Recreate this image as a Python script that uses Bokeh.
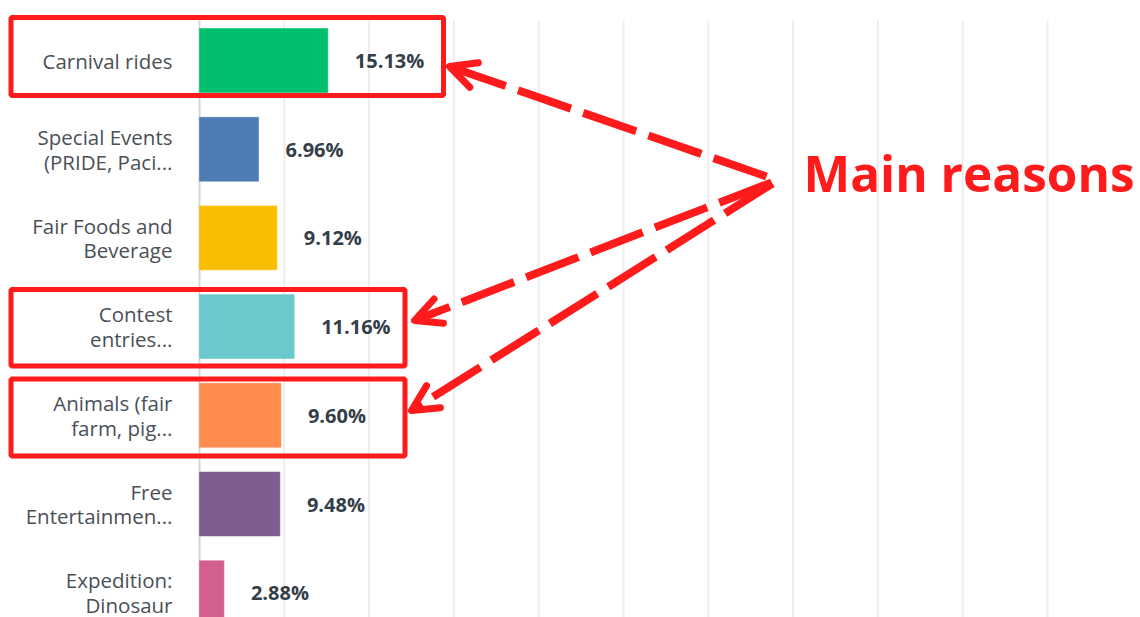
from bokeh.plotting import figure
from bokeh.models import Range1d, ColumnDataSource, BoxAnnotation, Arrow, OpenHead, Label
from bokeh.core.properties import value
from bokeh.embed import file_html
from bokeh.resources import INLINE

# ---- data ----
categories = [
    "Carnival rides",
    "Special Events\n(PRIDE, Paci...",
    "Fair Foods and\nBeverage",
    "Contest\nentries...",
    "Animals (fair\nfarm, pig...",
    "Free\nEntertainmen...",
    "Expedition:\nDinosaur",
]
percent = [15.13, 6.96, 9.12, 11.16, 9.60, 9.48, 2.88]
bar_colors = ["#00bf6f", "#507cb6", "#f9be00", "#6bc8cd", "#ff8b4f", "#7d5e8f", "#d25f90"]
grid_ticks = [0, 10, 20, 30, 40, 50, 60, 70, 80, 90, 100]
callout_text = "Main reasons"

# ---- layout (pixel geometry of the page) ----
W, H = 1140, 617
OFF = 0
X0_PX = 199             # picture x of 0 %
PX_PER_PCT = 8.48
Y0_PX = 60              # picture y of first category centre
PX_PER_ROW = 88.7

def dx(px):
    return (px - X0_PX) / PX_PER_PCT

def dy(py):
    return (py - Y0_PX) / PX_PER_ROW

p = figure(width=W, height=H, output_backend="svg", toolbar_location=None,
           x_axis_location=None, y_axis_location=None,
           x_range=Range1d(dx(OFF), dx(OFF + W)),
           y_range=Range1d(dy(OFF + H), dy(OFF)),
           min_border=0, min_border_left=0, min_border_right=0,
           min_border_top=0, min_border_bottom=0)
p.outline_line_color = None
p.background_fill_color = "white"
p.border_fill_color = "white"
p.xgrid.visible = False
p.ygrid.visible = False

idx = list(range(len(categories)))
labels = [f"{v:.2f}%" for v in percent]
src = ColumnDataSource(dict(y=idx, v=percent, c=bar_colors, cat=categories, lab=labels,
                            zero=[0] * len(idx)))

# grid lines
grid_top = dy(20)
grid_bottom = dy(OFF + H + 20)
p.segment(x0=grid_ticks[1:], x1=grid_ticks[1:], y0=[grid_top] * (len(grid_ticks) - 1),
          y1=[grid_bottom] * (len(grid_ticks) - 1), line_color="#ededed", line_width=2)
p.segment(x0=grid_ticks[:1], x1=grid_ticks[:1], y0=[grid_top], y1=[grid_bottom],
          line_color="#d6d6d6", line_width=2)

# bars
p.hbar(y="y", left="zero", right="v", height=0.72, fill_color="c", line_color="c",
       line_alpha=0.6, source=src)

# category labels
p.text(x="zero", y="y", text="cat", source=src, x_offset=-27, text_align="right",
       text_baseline="middle", text_font=value("Open Sans"), text_font_size="20.5px",
       text_color="#4a5056", text_line_height=0.88)

# value labels
p.text(x="v", y="y", text="lab", source=src, x_offset=27, text_align="left",
       text_baseline="middle", text_font=value("Open Sans"), text_font_size="20px",
       text_font_style="bold", text_color="#333e48")

RED = "#ff1b1b"
# highlight boxes
boxes = [(10.5, 443, 17, 95), (10.5, 404.5, 289, 365.5), (10.5, 404.5, 378.5, 455.5)]
for (l, r, t, b) in boxes:
    p.add_layout(BoxAnnotation(left=dx(l), right=dx(r), top=dy(t), bottom=dy(b),
                               fill_alpha=0, line_color=RED, line_width=5, line_alpha=1))

# dashed arrows
arrows = [((766, 176), (449, 66)), ((771, 182), (414, 320)), ((772, 183), (411, 410))]
for (sx, sy), (ex, ey) in arrows:
    head = OpenHead(size=26, line_color=RED, line_width=7, line_cap="round", line_join="round")
    p.add_layout(Arrow(end=head, x_start=dx(sx), y_start=dy(sy), x_end=dx(ex), y_end=dy(ey),
                       line_color=RED, line_width=8, line_dash="56 13"))

p.add_layout(Label(x=dx(803), y=dy(172), text=callout_text, text_font="Open Sans",
                   text_font_size="49.5px", text_font_style="bold", text_color=RED,
                   text_baseline="alphabetic", text_align="left"))

open("out.html", "w").write(file_html(p, INLINE))
